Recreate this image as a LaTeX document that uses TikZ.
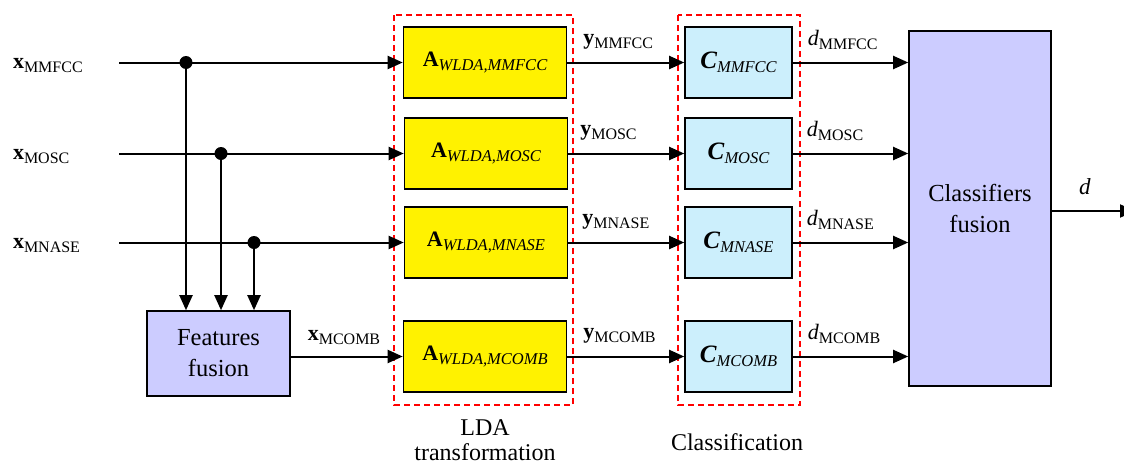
\documentclass[tikz,border=0pt]{standalone}
\usepackage{fontspec}
\setmainfont{Liberation Serif}
\usetikzlibrary{arrows.meta,positioning}

% nhan tin hieu: chu dam + chi so dung
\newcommand{\vt}[2]{\textbf{#1}\raisebox{-4pt}{\fontsize{16}{16}\selectfont #2}}
% nhan trong khoi: chu dam + chi so nghieng
\newcommand{\kh}[2]{#1\raisebox{-4pt}{\fontsize{16.5}{16.5}\selectfont\itshape #2}}

\begin{document}
\begin{tikzpicture}[x=1pt, y=-1pt, line width=2pt, >={Triangle[length=15pt,width=13pt]},
	khoi/.style={draw=black, line width=1.6pt, inner sep=0pt, align=center, font=\fontsize{24.5}{31}\selectfont},
	khoiA/.style={khoi, fill=yellow, minimum width=163pt, minimum height=71pt},
	khoiC/.style={khoi, fill=cyan!20, minimum width=107pt, minimum height=71pt},
	khoiF/.style={khoi, fill=blue!20},
	khung/.style={draw=red, line width=1.5pt, dash pattern=on 6pt off 4pt},
	nhan/.style={inner sep=0pt, font=\fontsize{22}{22}\selectfont},
	chu/.style={inner sep=0pt, align=center, font=\fontsize{24}{24.5}\selectfont}]
	\useasboundingbox (0,0) rectangle (1124,466);
	
	% Cac hang tin hieu
	\def\rA{62.5} \def\rB{153.5} \def\rC{242.5} \def\rD{356.5}
	
	% Khung net dut
	\draw[khung] (394,15) rectangle (573,405);
	\draw[khung] (678,15) rectangle (800,405);
	
	% Cac khoi LDA
	\node[khoiA] (A1) at (485,\rA) {\kh{\fontsize{22}{22}\selectfont\textbf{A}}{WLDA,MMFCC}};
	\node[khoiA] (A2) at (486,\rB) {\kh{\fontsize{22}{22}\selectfont\textbf{A}}{WLDA,MOSC}};
	\node[khoiA] (A3) at (486,\rC) {\kh{\fontsize{22}{22}\selectfont\textbf{A}}{WLDA,MNASE}};
	\node[khoiA] (A4) at (485,\rD) {\kh{\fontsize{22}{22}\selectfont\textbf{A}}{WLDA,MCOMB}};
	
	% Cac bo phan lop
	\node[khoiC] (C1) at (738.5,\rA) {\kh{\fontsize{25}{25}\selectfont\textbf{\textit{C}}}{MMFCC}};
	\node[khoiC] (C2) at (738.5,\rB) {\kh{\fontsize{25}{25}\selectfont\textbf{\textit{C}}}{MOSC}};
	\node[khoiC] (C3) at (738.5,\rC) {\kh{\fontsize{25}{25}\selectfont\textbf{\textit{C}}}{MNASE}};
	\node[khoiC] (C4) at (738.5,\rD) {\kh{\fontsize{25}{25}\selectfont\textbf{\textit{C}}}{MCOMB}};
	
	% Khoi hop nhat
	\node[khoiF, minimum width=143pt, minimum height=85pt] (FF) at (218.5,353.5) {Features\\fusion};
	\node[khoiF, minimum width=142pt, minimum height=355pt] (CF) at (980,208.5) {Classifiers\\fusion};
	
	% Dau vao
	\node[nhan, anchor=west] (x1) at (12,65.5) {\vt{x}{MMFCC}};
	\node[nhan, anchor=west] (x2) at (12,156.5) {\vt{x}{MOSC}};
	\node[nhan, anchor=west] (x3) at (12,245.5) {\vt{x}{MNASE}};
	\coordinate (in1) at (119,\rA);
	\coordinate (in2) at (119,\rB);
	\coordinate (in3) at (119,\rC);
	\coordinate (t1) at (186,\rA);
	\coordinate (t2) at (221,\rB);
	\coordinate (t3) at (254,\rC);
	\coordinate (out) at (1135,211);
	
	\draw[->] (in1) -- (A1);
	\draw[->] (in2) -- (A2);
	\draw[->] (in3) -- (A3);
	\draw[->] (t1) -- (t1 |- FF.north);
	\draw[->] (t2) -- (t2 |- FF.north);
	\draw[->] (t3) -- (t3 |- FF.north);
	\fill (t1) circle (6.5pt);
	\fill (t2) circle (6.5pt);
	\fill (t3) circle (6.5pt);
	
	\draw[->] (FF.east |- A4) -- (A4) node[pos=0, nhan, anchor=south west, xshift=16pt, yshift=11pt] {\vt{x}{MCOMB}};
	
	% Dau ra LDA
	\draw[->] (A1) -- (C1) node[pos=0, nhan, anchor=south west, xshift=15pt, yshift=12pt] {\vt{y}{MMFCC}};
	\draw[->] (A2) -- (C2) node[pos=0, nhan, anchor=south west, xshift=11pt, yshift=12pt] {\vt{y}{MOSC}};
	\draw[->] (A3) -- (C3) node[pos=0, nhan, anchor=south west, xshift=13pt, yshift=12pt] {\vt{y}{MNASE}};
	\draw[->] (A4) -- (C4) node[pos=0, nhan, anchor=south west, xshift=15pt, yshift=12pt] {\vt{y}{MCOMB}};
	
	% Quyet dinh
	\draw[->] (C1) -- (C1 -| CF.west) node[pos=0, nhan, anchor=south west, xshift=14pt, yshift=12pt] {\textit{d}\raisebox{-4pt}{\fontsize{16}{16}\selectfont MMFCC}};
	\draw[->] (C2) -- (C2 -| CF.west) node[pos=0, nhan, anchor=south west, xshift=13pt, yshift=12pt] {\textit{d}\raisebox{-4pt}{\fontsize{16}{16}\selectfont MOSC}};
	\draw[->] (C3) -- (C3 -| CF.west) node[pos=0, nhan, anchor=south west, xshift=13pt, yshift=12pt] {\textit{d}\raisebox{-4pt}{\fontsize{16}{16}\selectfont MNASE}};
	\draw[->] (C4) -- (C4 -| CF.west) node[pos=0, nhan, anchor=south west, xshift=14pt, yshift=12pt] {\textit{d}\raisebox{-4pt}{\fontsize{16}{16}\selectfont MCOMB}};
	
	\draw[->] (CF.east |- out) -- (out);
	\node[nhan, font=\fontsize{23}{23}\selectfont] (d) at (1085,187) {\textit{d}};
	
	% Chu thich
	\node[chu] (lda) at (485,440) {LDA\\transformation};
	\node[chu] (cls) at (737,442) {Classification};
\end{tikzpicture}
\end{document}
